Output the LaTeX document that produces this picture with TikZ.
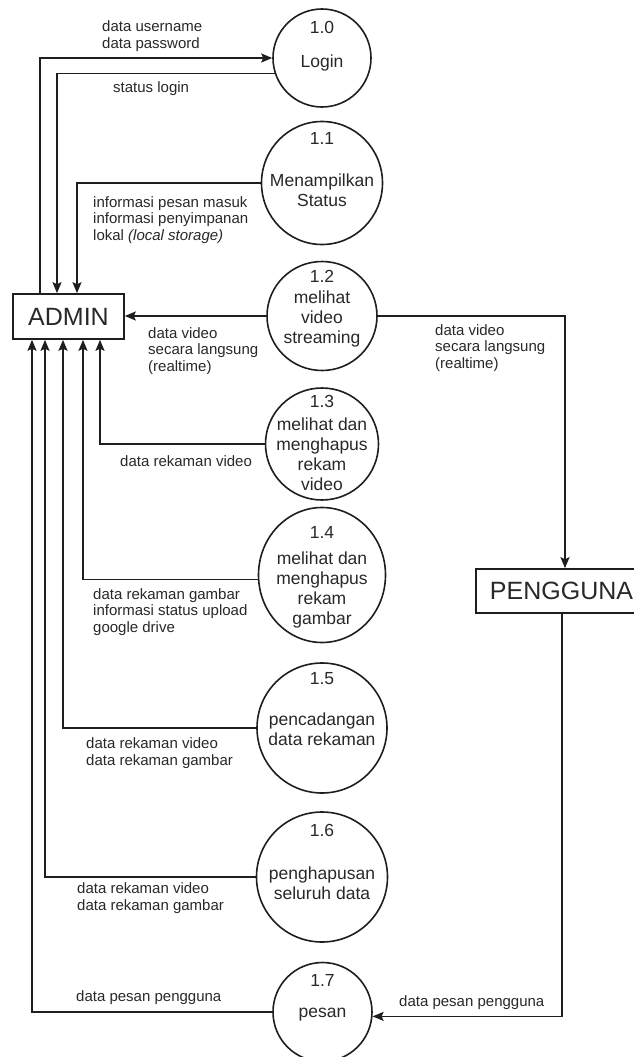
\documentclass[tikz,border=0pt]{standalone}
\usepackage{fontspec}
\setmainfont{Liberation Sans}
\usetikzlibrary{arrows.meta,shapes.geometric}
\definecolor{inkc}{RGB}{30,30,30}
\definecolor{txtc}{RGB}{40,40,40}

\begin{document}
\begin{tikzpicture}[x=1pt,y=-1pt,
  proc/.style={ellipse, draw=inkc, line width=1.6pt, inner sep=0pt},
  entity/.style={rectangle, draw=inkc, line width=1.6pt, inner sep=0pt,
    font=\fontsize{25}{30}\selectfont, text=txtc},
  lbl/.style={anchor=west, inner sep=0pt, align=left,
    font=\fontsize{15}{16.7}\selectfont, text=txtc},
  ptxt/.style={inner sep=0pt, align=center,
    font=\fontsize{17.5}{20}\selectfont, text=txtc},
  flow/.style={draw=inkc, line width=1.6pt,
    -{Stealth[length=11pt,width=9pt,inset=2pt]}},
]
\useasboundingbox (0,0) rectangle (634,1057);

% external entities
\node[entity, minimum width=111pt, minimum height=45pt] (admin) at (68.5,316.5) {ADMIN};
\node[entity, minimum width=171pt, minimum height=44pt] (pengguna) at (561.5,591) {PENGGUNA};

% processes
\node[proc, minimum width=98pt,  minimum height=98pt]  (p0) at (322,58)   {};
\node[proc, minimum width=121pt, minimum height=123pt] (p1) at (322,183)  {};
\node[proc, minimum width=110pt, minimum height=109pt] (p2) at (322,316)  {};
\node[proc, minimum width=113pt, minimum height=112pt] (p3) at (322,444)  {};
\node[proc, minimum width=127pt, minimum height=135pt] (p4) at (322,575)  {};
\node[proc, minimum width=130pt, minimum height=130pt] (p5) at (322,728)  {};
\node[proc, minimum width=131pt, minimum height=130pt] (p6) at (322,877)  {};
\node[proc, minimum width=99pt,  minimum height=99pt]  (p7) at (322.5,1012) {};

% process numbers and names
\node[ptxt] (p0n) at (322,27)  {1.0};
\node[ptxt] (p0t) at (322,63)  {Login};
\node[ptxt] (p1n) at (322,138) {1.1};
\node[ptxt] (p1t) at (322,190) {Menampilkan\\Status};
\node[ptxt] (p2n) at (322,276) {1.2};
\node[ptxt] (p2t) at (322,319) {melihat\\video\\streaming};
\node[ptxt] (p3n) at (322,401) {1.3};
\node[ptxt] (p3t) at (322,454) {melihat dan\\menghapus\\rekam\\video};
\node[ptxt] (p4n) at (322,532) {1.4};
\node[ptxt] (p4t) at (322,590) {melihat dan\\menghapus\\rekam\\gambar};
\node[ptxt] (p5n) at (322,679) {1.5};
\node[ptxt] (p5t) at (322,729) {pencadangan\\data rekaman};
\node[ptxt] (p6n) at (322,830) {1.6};
\node[ptxt] (p6t) at (322,883) {penghapusan\\seluruh data};
\node[ptxt] (p7n) at (322.5,980) {1.7};
\node[ptxt] (p7t) at (322.5,1015) {pesan};

% data flows
\draw[flow] (admin.north -| 40,0) |- (p0.west);
\draw[flow] (p0.198) -| (admin.north -| 57,0);
\draw[flow] (p1.west) -| (admin.north -| 77,0);
\draw[flow] (p2.west) -- (p2.west -| admin.east);
\draw[flow] (p2.east) -| (pengguna.north -| 565,0);
\draw[flow] (p3.west) -| (admin.south -| 100,0);
\draw[flow] (p4.184) -| (admin.south -| 83,0);
\draw[flow] (p5.west) -| (admin.south -| 63,0);
\draw[flow] (p6.west) -| (admin.south -| 45,0);
\draw[flow] (p7.west) -| (admin.south -| 32,0);
\draw[flow] (pengguna.south -| 562,0) |- (p7.355);

% flow labels
\node[lbl] (l0a) at (102,36)  {data username\\data password};
\node[lbl] (l0b) at (113,89)  {status login};
\node[lbl] (l1)  at (93,220)  {informasi pesan masuk\\informasi penyimpanan\\lokal \textit{(local storage)}};
\node[lbl] (l2a) at (148,351) {data video\\secara langsung\\(realtime)};
\node[lbl] (l2b) at (435,348) {data video\\secara langsung\\(realtime)};
\node[lbl] (l3)  at (120,461) {data rekaman video};
\node[lbl] (l4)  at (93,612)  {data rekaman gambar\\informasi status upload\\google drive};
\node[lbl] (l5)  at (86,753)  {data rekaman video\\data rekaman gambar};
\node[lbl] (l6)  at (77,898)  {data rekaman video\\data rekaman gambar};
\node[lbl] (l7a) at (76,998)  {data pesan pengguna};
\node[lbl] (l7b) at (399,1003) {data pesan pengguna};
\end{tikzpicture}
\end{document}
